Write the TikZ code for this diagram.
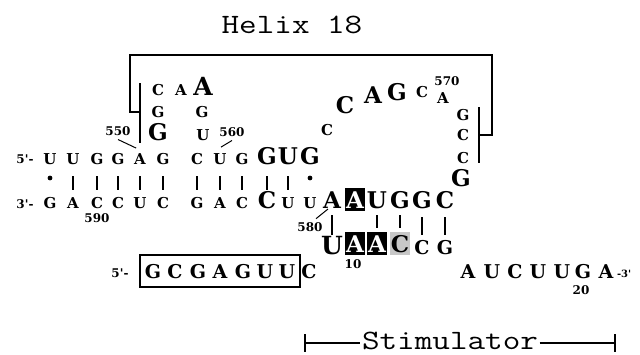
\documentclass[tikz,border=0pt]{standalone}
\usepackage{fontspec}
\newfontfamily\nucfont{DejaVu Serif}
\newfontfamily\helixfont[FakeStretch=1.22]{Latin Modern Mono}
\begin{document}
\begin{tikzpicture}[x=1pt,y=-1pt,
  nt/.style={inner sep=0pt, outer sep=0pt, anchor=base, text depth=0pt},
  sm/.style={nt, font=\nucfont\bfseries\fontsize{15}{17}\selectfont, text height=10.9pt},
  md/.style={nt, font=\nucfont\bfseries\fontsize{19}{21}\selectfont, text height=13.9pt},
  lg/.style={nt, font=\nucfont\bfseries\fontsize{23}{25}\selectfont, text height=16.8pt},
  xl/.style={nt, font=\nucfont\bfseries\fontsize{25}{27}\selectfont, text height=18.2pt},
  num/.style={nt, font=\nucfont\bfseries\fontsize{12}{14}\selectfont, text height=8.8pt},
  tiny/.style={nt, font=\nucfont\bfseries\fontsize{10}{12}\selectfont, text height=7.3pt},
  blk/.style={fill=black, text=white, minimum width=20pt, minimum height=23pt},
  gry/.style={fill=black!22, minimum width=20pt, minimum height=23pt},
  bp/.style={line width=2.6pt},
  tk/.style={line width=1pt},
  brk/.style={line width=2pt},
  dotn/.style={circle, fill=black, inner sep=0pt, minimum size=4.8pt},
  mono/.style={font=\helixfont\fontsize{28}{30}\selectfont, inner sep=0.5pt, anchor=base}
]
\useasboundingbox (0,0) rectangle (640,354);

% title
\node[mono] (helix) at (292,33) {Helix 18};

% brackets
\coordinate (la) at (140,83);
\coordinate (lb) at (140,143);
\coordinate (lc) at (140,112);
\coordinate (ld) at (130,112);
\coordinate (le) at (130,55);
\coordinate (rf) at (492,55);
\coordinate (rg) at (492,135);
\coordinate (rh) at (479,135);
\coordinate (ri) at (479,107);
\coordinate (rj) at (479,163);
\draw[brk] (la) -- (lb);
\draw[brk] (lc) -- (ld) -- (le) -- (rf) -- (rg) -- (rh);
\draw[brk] (ri) -- (rj);

% hairpin loop (left)
\node[sm] (h1) at (158,95) {C};
\node[sm] (h2) at (181,95) {A};
\node[xl] (h3) at (203,95) {A};
\node[sm] (h4) at (158,117) {G};
\node[sm] (h5) at (202,117) {G};
\node[lg] (h6) at (158,140) {G};
\node[sm] (h7) at (203,140) {U};

% top strand
\node[num] (p5a) at (25,163) {5'-};
\node[sm] (t1) at (50,164) {U};
\node[sm] (t2) at (73,164) {U};
\node[sm] (t3) at (97,164) {G};
\node[sm] (t4) at (118,164) {G};
\node[sm] (t5) at (140,164) {A};
\node[sm] (t6) at (163,164) {G};
\node[sm] (t7) at (197,164) {C};
\node[sm] (t8) at (220,164) {U};
\node[sm] (t9) at (242,164) {G};
\node[lg] (t10) at (267,164) {G};
\node[lg] (t11) at (288,164) {U};
\node[lg] (t12) at (310,164) {G};

% bottom strand
\node[num] (p3a) at (25,208) {3'-};
\node[sm] (b1) at (50,208) {G};
\node[sm] (b2) at (73,208) {A};
\node[sm] (b3) at (97,208) {C};
\node[sm] (b4) at (118,208) {C};
\node[sm] (b5) at (140,208) {U};
\node[sm] (b6) at (163,208) {C};
\node[sm] (b7) at (197,208) {G};
\node[sm] (b8) at (220,208) {A};
\node[sm] (b9) at (242,208) {C};
\node[lg] (b10) at (267,208) {C};
\node[sm] (b11) at (288,208) {U};
\node[sm] (b12) at (310,208) {U};
\node[lg] (b13) at (332,208) {A};
\node[lg,blk] (b14) at (355,208) {A};
\node[lg] (b15) at (377,208) {U};
\node[lg] (b16) at (400,208) {G};
\node[lg] (b17) at (422,208) {G};
\node[lg] (b18) at (445,208) {C};

% stem pairs
\foreach \i in {2,...,11}{
  \draw[bp] ([shift={(0,12)}]t\i.south) -- ([shift={(0,-18)}]b\i.base);
}
\node[dotn] (d1) at (50,178) {};
\node[dotn] (d2) at (310,178) {};

% right loop
\node[sm] (r1) at (327,135) {C};
\node[lg] (r2) at (345,113) {C};
\node[lg] (r3) at (373,103) {A};
\node[lg] (r4) at (397,100) {G};
\node[sm] (r5) at (422,97) {C};
\node[sm] (r6) at (443,103) {A};
\node[sm] (r7) at (463,120) {G};
\node[sm] (r8) at (463,140) {C};
\node[sm] (r9) at (463,163) {C};
\node[lg] (r10) at (461,186) {G};

% lower helix row
\node[xl] (l1) at (332,254) {U};
\node[lg,blk] (l2) at (355,252) {A};
\node[lg,blk] (l3) at (377,252) {A};
\node[lg,gry] (l4) at (400,252) {C};
\node[md] (l5) at (422,254) {C};
\node[md] (l6) at (445,254) {G};

\draw[bp] ([shift={(0,7)}]b13.base) -- ([shift={(0,-19)}]l1.base);
\draw[bp] ([shift={(0,7)}]b15.base) -- ([shift={(0,-24)}]l3.base);
\draw[bp] ([shift={(0,7)}]b16.base) -- ([shift={(0,-24)}]l4.base);
\draw[bp] ([shift={(0,9)}]b17.base) -- ([shift={(0,-19)}]l5.base);
\draw[bp] ([shift={(0,9)}]b18.base) -- ([shift={(0,-19)}]l6.base);

% numbers
\node[num] (n550) at (118,135.5) {550};
\node[num] (n560) at (232,136.5) {560};
\node[num] (n570) at (447,85.5) {570};
\node[num] (n580) at (310,231.5) {580};
\node[num] (n590) at (97,222.5) {590};
\node[num] (n10) at (353,268.5) {10};
\node[num] (n20) at (581,294.5) {20};
\draw[tk] ([shift={(0,4)}]n550.south) -- ([shift={(2,-5)}]t5.north west);
\draw[tk] ([shift={(0,4)}]n560.south) -- ([shift={(1,-6)}]t8.north);
\draw[tk] ([shift={(6,-4)}]n580.north) -- ([shift={(-4,1)}]b13.south);

% bottom line
\node[num] (p5b) at (120,277) {5'-};
\node[draw, line width=1.8pt, minimum width=160pt, minimum height=32pt, inner sep=0pt] (gbox) at (220,271) {};
\node[md] (g1) at (153,278) {G};
\node[md] (g2) at (175,278) {C};
\node[md] (g3) at (198,278) {G};
\node[md] (g4) at (220,278) {A};
\node[md] (g5) at (243,278) {G};
\node[md] (g6) at (265,278) {U};
\node[md] (g7) at (287,278) {U};
\node[md] (g8) at (309,278) {C};

\node[md] (a1) at (468,278) {A};
\node[md] (a2) at (492,278) {U};
\node[md] (a3) at (515,278) {C};
\node[md] (a4) at (538,278) {U};
\node[md] (a5) at (562,278) {U};
\node[md] (a6) at (583,278) {G};
\node[md] (a7) at (606,278) {A};
\node[tiny, anchor=base west] (p3b) at (617,277) {-3'};

% stimulator
\node[mono] (stim) at (450,349) {Stimulator};
\coordinate (s1) at (305,343);
\coordinate (s2) at (615,343);
\draw[brk] (s1) -- ([xshift=-1pt]s1 -| stim.west);
\draw[brk] ([xshift=1pt]s2 -| stim.east) -- (s2);
\draw[brk] ([shift={(0,-9)}]s1) -- ([shift={(0,9)}]s1);
\draw[brk] ([shift={(0,-9)}]s2) -- ([shift={(0,9)}]s2);
\end{tikzpicture}
\end{document}
